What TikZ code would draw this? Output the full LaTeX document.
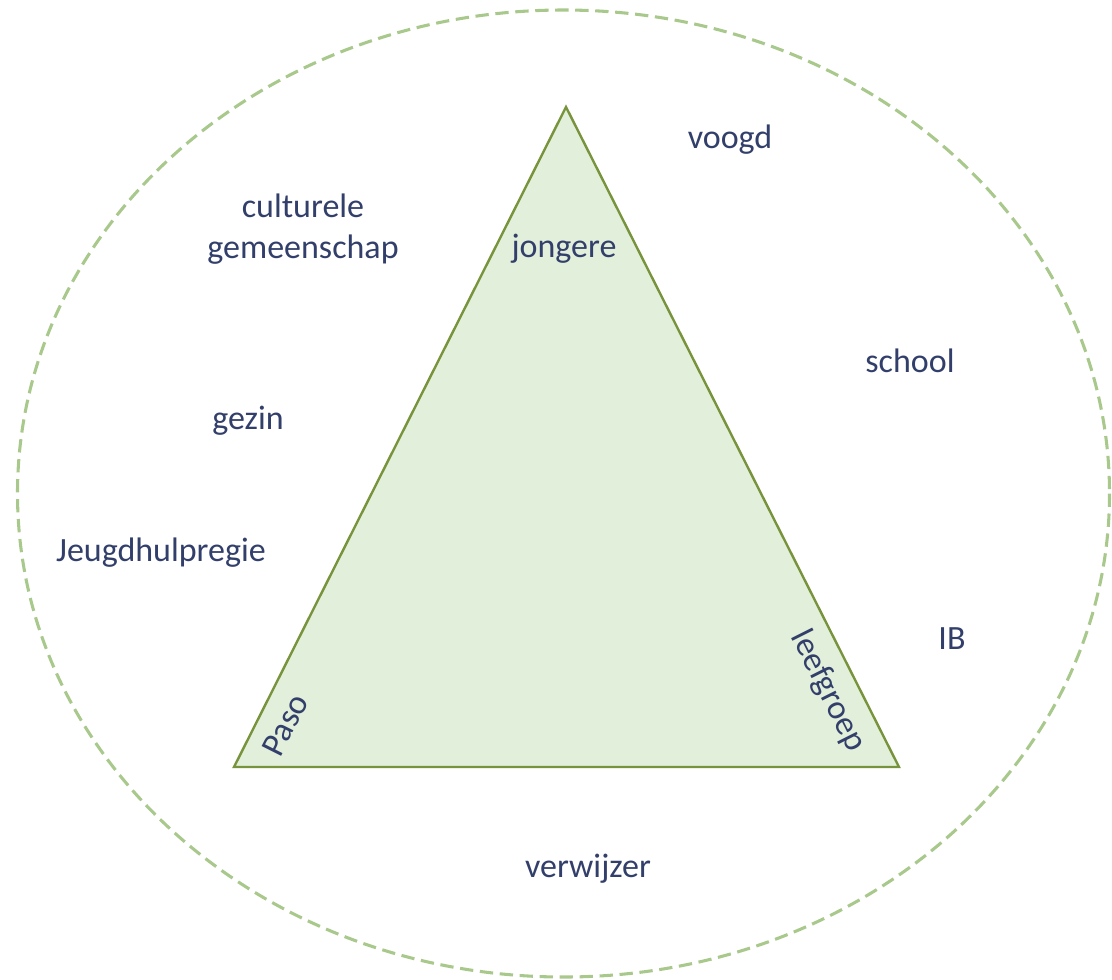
\documentclass[tikz,border=0pt]{standalone}
\usepackage{fontspec}
\setmainfont{Carlito}
\definecolor{txt}{RGB}{50,63,107}
\definecolor{tri}{RGB}{119,147,60}
\definecolor{trifill}{RGB}{226,239,218}
\definecolor{ring}{RGB}{169,200,140}
\begin{document}
\begin{tikzpicture}[x=0.75pt,y=-0.75pt,
  lbl/.style={text=txt,font=\fontsize{25.5}{31}\selectfont,inner sep=0pt,align=center},
  ringstyle/.style={draw=ring,line width=2.3pt,dash pattern=on 10pt off 5pt},
  tristyle/.style={draw=tri,fill=trifill,line width=1.8pt,line join=miter}]
\useasboundingbox (0,0) rectangle (1112,979);
\draw[ringstyle] (563.5,493.5) ellipse [x radius=546,y radius=483.5];
\coordinate (A) at (566,107);
\coordinate (B) at (234,767);
\coordinate (C) at (899,767);
\draw[tristyle] (A) -- (B) -- (C) -- cycle;
\node[lbl] (voogd) at (730,140) {voogd};
\node[lbl] (cult) at (303,229) {culturele\\gemeenschap};
\node[lbl] (jong) at (564,249) {jongere};
\node[lbl] (school) at (910,361) {school};
\node[lbl] (gezin) at (248,421) {gezin};
\node[lbl] (jeugd) at (161,553) {Jeugdhulpregie};
\node[lbl] (ib) at (952,639) {IB};
\node[lbl,rotate=63.3] (paso) at (285,725) {Paso};
\node[lbl,rotate=-63.3] (leef) at (828,691) {leefgroep};
\node[lbl] (verw) at (588,869) {verwijzer};
\end{tikzpicture}
\end{document}
